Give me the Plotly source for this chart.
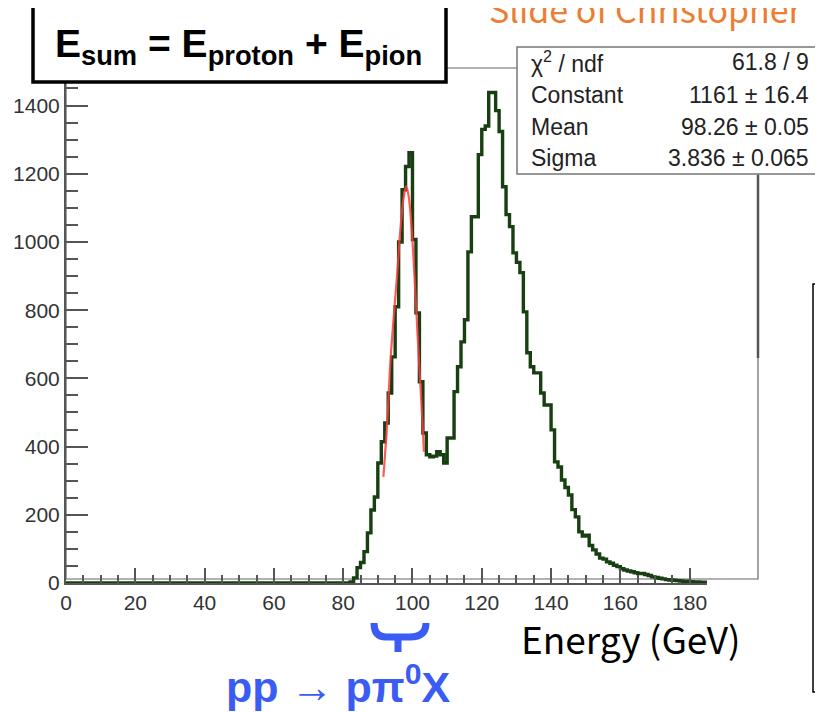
import plotly.graph_objects as go

# ---------------- data ----------------
hist_first_bin = 82          # left edge of first non-empty bin (GeV)
bin_width = 1.0
hist_counts = [
    3, 15, 45, 60, 92, 147, 214, 252, 352, 414,            # 82-91
    469, 557, 663, 810, 1000, 1153, 1221, 1262, 1007, 792,  # 92-101
    590, 440, 376, 370, 372, 385, 376, 352, 425, 425,       # 102-111
    561, 634, 707, 772, 971, 1074, 1074, 1256, 1330, 1340,  # 112-121
    1438, 1438, 1385, 1324, 1162, 1080, 1045, 968, 940, 910, # 122-131
    795, 675, 634, 616, 616, 557, 522, 522, 449, 355,       # 132-141
    340, 302, 280, 258, 215, 194, 150, 138, 140, 110,       # 142-151
    97, 85, 73, 70, 62, 58, 52, 48, 42, 38,                 # 152-161
    35, 33, 30, 28, 28, 25, 22, 18, 16, 14,                 # 162-171
    12, 10, 9, 8, 7, 6, 5, 5, 4, 3,                         # 172-181
    3, 2, 2,                                                # 182-184
]
hist_start = 0               # histogram starts (empty) at 0 GeV

fit_x = [91.6, 92.7, 93.6, 94.6, 95.6, 96.5, 97.5, 98.2, 98.9, 99.9, 100.9, 101.8, 102.8, 103.3]
fit_y = [311, 469, 645, 782, 909, 1036, 1134, 1163, 1134, 1016, 840, 664, 488, 385]

stats_names = ["χ<sup>2</sup> / ndf", "Constant", "Mean", "Sigma"]
stats_values = ["61.8 / 9", "1161 ± 16.4", "98.26 ± 0.05", "3.836 ± 0.065"]

x_range = [0, 185]
y_range = [0, 1510]

# ---------------- build histogram outline ----------------
edges = [hist_start] + [hist_first_bin + i * bin_width for i in range(len(hist_counts) + 1)]
vals = [0] + hist_counts + [hist_counts[-1]]

# page layout (the page body adds an 8 px offset to the figure)
W, H = 823, 712
OFF = 8
PL, PR, PT, PB = 66 - OFF, 707 - OFF, 68 - OFF, 583 - OFF   # plot area in figure pixels
PW, PH = PR - PL, PB - PT


def px(sx):
    """page pixel x -> paper coordinate"""
    return (sx - OFF - PL) / PW


def py(sy):
    """page pixel y -> paper coordinate"""
    return (PB - (sy - OFF)) / PH


fig = go.Figure()
fig.add_trace(go.Scatter(
    x=edges, y=vals, mode="lines", line=dict(shape="hv", color="#173f12", width=3.4),
    hoverinfo="skip", showlegend=False))
fig.add_trace(go.Scatter(
    x=fit_x, y=fit_y, mode="lines", line=dict(shape="spline", color="rgba(255,60,60,0.85)", width=2.2),
    hoverinfo="skip", showlegend=False))

tickfont = dict(family="Liberation Sans, Arial, sans-serif", size=21, color="#333")
fig.update_xaxes(range=x_range, dtick=20, tick0=0, showline=True, linecolor="#555", linewidth=2,
                 ticks="inside", ticklen=15, tickwidth=1.5, tickcolor="#555", tickfont=tickfont,
                 showgrid=False, zeroline=False, automargin=False,
                 minor=dict(dtick=5, tick0=0, ticks="inside", ticklen=8, tickwidth=1.5, tickcolor="#555", showgrid=False))
fig.update_yaxes(range=y_range, dtick=200, tick0=0, showline=True, linecolor="#555", linewidth=2,
                 ticks="inside", ticklen=22, tickwidth=1.5, tickcolor="#555", tickfont=tickfont,
                 showgrid=False, zeroline=False, automargin=False,
                 minor=dict(dtick=50, tick0=0, ticks="inside", ticklen=12, tickwidth=1.5, tickcolor="#555", showgrid=False))

shapes = []
# ROOT frame (extends beyond axis on the right)
shapes.append(dict(type="rect", xref="paper", yref="paper", x0=px(66), x1=px(758), y0=py(579), y1=py(68),
                   line=dict(color="#666", width=1.2), layer="below"))
shapes.append(dict(type="line", xref="paper", yref="paper", x0=px(758), x1=px(758), y0=py(175), y1=py(358),
                   line=dict(color="#555", width=2.5)))
# stats box
shapes.append(dict(type="rect", xref="paper", yref="paper", x0=px(517), x1=px(840), y0=py(174), y1=py(47),
                   line=dict(color="#777", width=1.5), fillcolor="white"))
# title box
shapes.append(dict(type="rect", xref="paper", yref="paper", x0=px(33), x1=px(446), y0=py(82), y1=py(6),
                   line=dict(color="black", width=3.5), fillcolor="white"))
# right slide box
shapes.append(dict(type="rect", xref="paper", yref="paper", x0=px(813), x1=px(840), y0=py(692), y1=py(284),
                   line=dict(color="black", width=1.5)))
shapes.append(dict(type="circle", xref="paper", yref="paper", x0=px(820), x1=px(825), y0=py(383), y1=py(377),
                   line=dict(width=0), fillcolor="#c87a3a"))


# blue brace under the pi0 peak
def P(sx, sy):
    return f"{px(sx):.5f},{py(sy):.5f}"


brace = (f"M {P(374,623)} Q {P(374,637)} {P(386,637)} L {P(398,637)} L {P(398,652)} "
         f"M {P(398,637)} L {P(410,637)} Q {P(426,637)} {P(426,623)}")
shapes.append(dict(type="path", xref="paper", yref="paper", path=brace,
                   line=dict(color="#3a5cf5", width=7)))

annotations = []
annotations.append(dict(xref="paper", yref="paper", x=px(238), y=py(46), xanchor="center", yanchor="middle",
                        text="<b>E<sub>sum</sub> = E<sub>proton</sub> + E<sub>pion</sub></b>", showarrow=False,
                        font=dict(family="Liberation Sans, Arial, sans-serif", size=39, color="black")))
rows_y = [62, 95, 127, 158]
for name, val, ry in zip(stats_names, stats_values, rows_y):
    annotations.append(dict(xref="paper", yref="paper", x=px(529), y=py(ry), xanchor="left", yanchor="middle",
                            text=name, showarrow=False,
                            font=dict(family="Liberation Sans, Arial, sans-serif", size=23, color="#222")))
    annotations.append(dict(xref="paper", yref="paper", x=px(811), y=py(ry), xanchor="right", yanchor="middle",
                            text=val, showarrow=False,
                            font=dict(family="Liberation Sans, Arial, sans-serif", size=23, color="#222")))
annotations.append(dict(xref="paper", yref="paper", x=px(630), y=py(638), xanchor="center", yanchor="middle",
                        text="Energy (GeV)", showarrow=False,
                        font=dict(family="Noto Sans CJK KR, Noto Sans, sans-serif", size=37, color="black")))
annotations.append(dict(xref="paper", yref="paper", x=px(338), y=py(684), xanchor="center", yanchor="middle",
                        text="<b>pp → pπ<sup>0</sup>X</b>", showarrow=False,
                        font=dict(family="Liberation Sans, Arial, sans-serif", size=43, color="#3a5cf5")))
annotations.append(dict(xref="paper", yref="paper", x=px(646), y=py(9), xanchor="center", yanchor="middle",
                        text="Slide of Christopher", showarrow=False,
                        font=dict(family="Noto Sans CJK KR, Noto Sans, sans-serif", size=34, color="#ED7D31")))

fig.update_layout(width=W, height=H,
                  margin=dict(l=PL, r=W - PR, t=PT, b=H - PB, pad=0, autoexpand=False),
                  plot_bgcolor="white", paper_bgcolor="white", shapes=shapes, annotations=annotations,
                  showlegend=False)

fig.write_html("out.html")
